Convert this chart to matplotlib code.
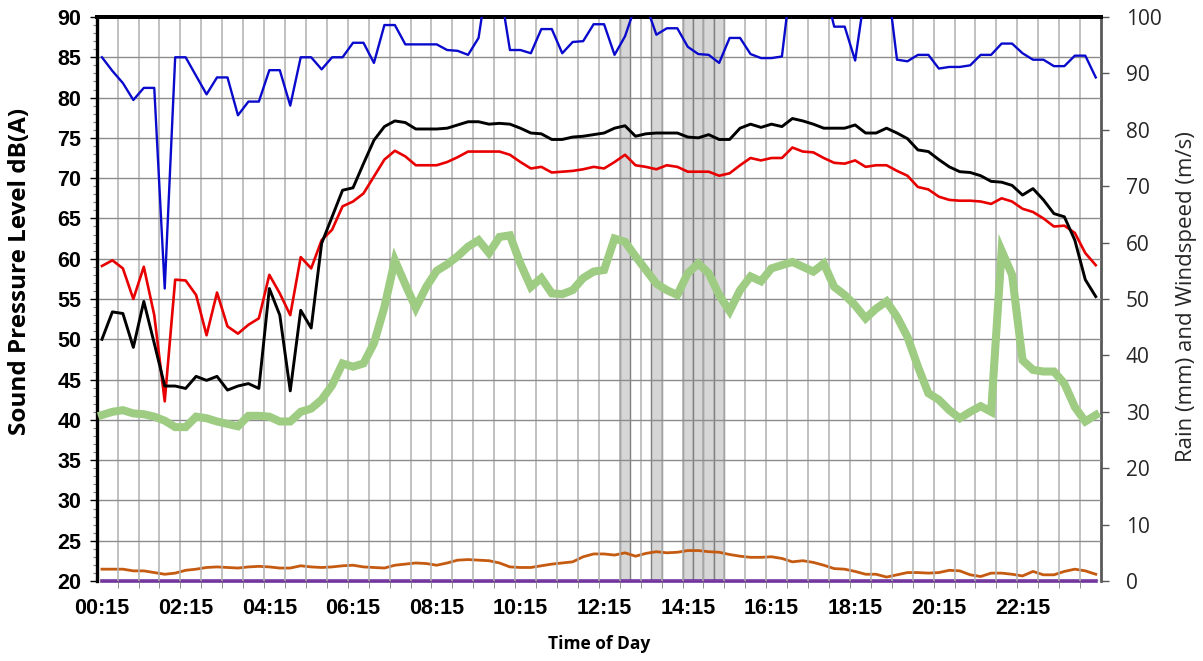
import matplotlib
matplotlib.use("Agg")
import matplotlib.pyplot as plt
import numpy as np

# 15-minute intervals, 00:15 -> 24:00
tick_labels = ["00:15", "02:15", "04:15", "06:15", "08:15", "10:15",
               "12:15", "14:15", "16:15", "18:15", "20:15", "22:15"]

# sound levels, dB(A) (left axis)
lmax = [85.0, 83.3, 81.8, 79.7, 81.2, 81.2, 56.3, 85.0, 85.0, 82.7, 80.4, 82.5,
        82.5, 77.8, 79.5, 79.5, 83.4, 83.4, 79.0, 85.0, 85.0, 83.5, 85.0, 85.0,
        86.8, 86.8, 84.3, 89.0, 89.0, 86.6, 86.6, 86.6, 86.6, 85.9, 85.8, 85.3,
        87.4, 96.0, 94.0, 85.9, 85.9, 85.5, 88.5, 88.5, 85.5, 86.9, 87.0, 89.1,
        89.1, 85.3, 87.6, 91.4, 91.5, 87.8, 88.6, 88.6, 86.3, 85.4, 85.3, 84.3,
        87.4, 87.4, 85.4, 84.9, 84.9, 85.1, 96.0, 97.0, 96.0, 94.0, 88.8, 88.8,
        84.6, 93.5, 95.0, 95.3, 84.7, 84.5, 85.3, 85.3, 83.6, 83.8, 83.8, 84.0,
        85.3, 85.3, 86.7, 86.7, 85.5, 84.7, 84.7, 83.9, 83.9, 85.2, 85.2, 82.5]

l10 = [50.0, 53.4, 53.2, 49.0, 54.7, 49.5, 44.2, 44.2, 43.9, 45.4, 44.9, 45.4,
       43.7, 44.2, 44.5, 43.9, 56.3, 53.0, 43.6, 53.6, 51.4, 61.9, 65.2, 68.5,
       68.8, 71.8, 74.7, 76.4, 77.1, 76.9, 76.1, 76.1, 76.1, 76.2, 76.6, 77.0,
       77.0, 76.7, 76.8, 76.7, 76.2, 75.6, 75.5, 74.8, 74.8, 75.1, 75.2, 75.4,
       75.6, 76.2, 76.5, 75.2, 75.5, 75.6, 75.6, 75.6, 75.1, 75.0, 75.4, 74.8,
       74.8, 76.2, 76.7, 76.3, 76.7, 76.4, 77.4, 77.1, 76.7, 76.2, 76.2, 76.2,
       76.6, 75.6, 75.6, 76.2, 75.6, 74.9, 73.5, 73.3, 72.3, 71.4, 70.8, 70.7,
       70.3, 69.6, 69.5, 69.1, 67.9, 68.7, 67.3, 65.6, 65.2, 62.3, 57.4, 55.3]

leq = [59.1, 59.8, 58.8, 55.0, 59.0, 53.0, 42.3, 57.4, 57.3, 55.5, 50.5, 55.8,
       51.6, 50.7, 51.8, 52.6, 58.0, 55.7, 53.0, 60.2, 58.8, 62.3, 63.6, 66.5,
       67.1, 68.1, 70.2, 72.3, 73.4, 72.7, 71.6, 71.6, 71.6, 72.0, 72.6, 73.3,
       73.3, 73.3, 73.3, 72.9, 72.0, 71.2, 71.4, 70.7, 70.8, 70.9, 71.1, 71.4,
       71.2, 72.0, 72.9, 71.6, 71.4, 71.1, 71.6, 71.4, 70.8, 70.8, 70.8, 70.3,
       70.6, 71.6, 72.5, 72.2, 72.5, 72.5, 73.8, 73.3, 73.2, 72.5, 71.9, 71.8,
       72.2, 71.4, 71.6, 71.6, 70.9, 70.3, 68.9, 68.6, 67.7, 67.3, 67.2, 67.2,
       67.1, 66.8, 67.5, 67.1, 66.2, 65.8, 65.0, 64.0, 64.1, 63.2, 60.7, 59.2]

l90 = [40.6, 41.0, 41.2, 40.8, 40.7, 40.4, 39.9, 39.1, 39.1, 40.4, 40.2, 39.8,
       39.5, 39.2, 40.5, 40.5, 40.4, 39.8, 39.8, 41.0, 41.4, 42.5, 44.3, 47.0,
       46.6, 47.0, 49.5, 54.0, 59.8, 56.8, 53.9, 56.5, 58.5, 59.3, 60.3, 61.5,
       62.3, 60.7, 62.7, 62.9, 59.4, 56.5, 57.6, 55.7, 55.6, 56.1, 57.6, 58.4,
       58.6, 62.5, 62.1, 60.3, 58.6, 56.9, 56.1, 55.5, 58.2, 59.4, 58.2, 55.5,
       53.5, 56.1, 57.8, 57.2, 58.8, 59.2, 59.6, 59.0, 58.4, 59.4, 56.5, 55.5,
       54.2, 52.6, 53.8, 54.7, 52.8, 50.3, 46.6, 43.3, 42.5, 41.2, 40.2, 41.0,
       41.7, 41.0, 61.0, 58.0, 47.4, 46.2, 46.0, 46.0, 44.5, 41.6, 39.8, 40.6]

# weather (right axis)
windspeed = [2.1, 2.1, 2.1, 1.8, 1.8, 1.5, 1.2, 1.4, 1.9, 2.1, 2.4, 2.5,
             2.4, 2.3, 2.5, 2.6, 2.5, 2.3, 2.3, 2.7, 2.5, 2.4, 2.5, 2.7,
             2.8, 2.5, 2.4, 2.3, 2.8, 3.0, 3.2, 3.1, 2.8, 3.2, 3.7, 3.8,
             3.7, 3.6, 3.2, 2.5, 2.4, 2.4, 2.7, 3.0, 3.2, 3.4, 4.3, 4.8,
             4.8, 4.6, 5.0, 4.4, 4.9, 5.2, 5.0, 5.1, 5.4, 5.4, 5.2, 5.1,
             4.7, 4.4, 4.2, 4.2, 4.3, 4.0, 3.4, 3.6, 3.3, 2.8, 2.2, 2.1,
             1.7, 1.2, 1.2, 0.7, 1.1, 1.5, 1.5, 1.4, 1.5, 1.9, 1.8, 1.1,
             0.8, 1.4, 1.4, 1.2, 0.9, 1.7, 1.1, 1.1, 1.7, 2.1, 1.8, 1.2]
rain = [0.0] * 96

# excluded intervals (shaded columns)
flag_idx = [50, 53, 56, 57, 58, 59]
flag_val = [100, 100, 100, 100, 100, 100]

x = np.arange(len(leq))

fig, ax1 = plt.subplots(figsize=(12.03, 6.61), dpi=100)
fig.subplots_adjust(left=0.0804, right=0.9152, top=0.9743, bottom=0.121)
ax2 = ax1.twinx()

# right axis goes behind so the noise lines sit over the shaded columns
ax2.set_zorder(ax1.get_zorder() - 1)
ax1.patch.set_visible(False)

ax2.bar(flag_idx, flag_val, width=1.0, color="#D6D6D6", edgecolor="#7F7F7F",
        linewidth=1.0, zorder=2)
ax2.plot(x, windspeed, color="#C55A11", lw=2.0, zorder=3)
ax2.plot(x, rain, color="#7030A0", lw=2.6, zorder=4, clip_on=False)

ax1.plot(x, l90, color="#9DCC82", lw=5.8, solid_joinstyle="miter", zorder=3)
ax1.plot(x, leq, color="#E80000", lw=1.9, zorder=4)
ax1.plot(x, l10, color="black", lw=2.1, zorder=5)
ax1.plot(x, lmax, color="#0A0ACD", lw=1.7, zorder=6)

ax1.set_xlim(-0.5, 95.5)
ax1.set_ylim(20, 90)
ax2.set_ylim(0, 100)

# x axis: labels on category centres, grid on every 2nd boundary
ax1.set_xticks(np.arange(0, 96, 8))
ax1.set_xticklabels(tick_labels, fontfamily="Liberation Sans",
                    fontweight="bold", fontsize=15.5)
ax1.set_xticks(np.arange(1.5, 95, 2), minor=True)
ax1.tick_params(axis="x", which="major", length=0, pad=12)
ax1.tick_params(axis="x", which="minor", length=5, direction="out",
                color="#7F7F7F")
ax1.grid(which="minor", axis="x", color="#B0B0B0", lw=1.1)

ax1.set_yticks(np.arange(20, 91, 5))
ax1.set_yticks(np.arange(20, 91, 1), minor=True)
ax1.tick_params(axis="y", which="major", length=5, width=1, pad=6,
                labelsize=15.5)
ax1.tick_params(axis="y", which="minor", length=3, width=0.8, color="#7F7F7F")
for t in ax1.get_yticklabels():
    t.set_fontfamily("Liberation Sans")
    t.set_fontweight("bold")
ax1.grid(which="major", axis="y", color="#8C8C8C", lw=1.0)

ax2.set_yticks(np.arange(0, 101, 10))
ax2.tick_params(axis="y", length=6, width=1, pad=12, labelsize=15,
                color="#595959")
for t in ax2.get_yticklabels():
    t.set_fontfamily("Open Sans")
    t.set_color("#262626")

for a in (ax1, ax2):
    a.spines["bottom"].set_visible(False)
ax1.spines["top"].set_linewidth(2.8)
ax1.spines["left"].set_linewidth(2.4)
ax2.spines["top"].set_linewidth(2.8)
ax2.spines["right"].set_linewidth(2.0)
ax2.spines["right"].set_color("#595959")
ax2.spines["left"].set_visible(False)
ax1.spines["right"].set_visible(False)

ax1.set_ylabel("Sound Pressure Level dB(A)", fontfamily="Open Sans",
               fontweight="bold", fontsize=17.5)
ax1.yaxis.set_label_coords(-0.064, 0.548)
ax2.set_ylabel("Rain (mm) and Windspeed (m/s)", fontfamily="Open Sans",
               fontsize=16, color="#262626")
ax2.yaxis.set_label_coords(1.075, 0.505)
ax1.set_xlabel("Time of Day", fontfamily="Open Sans", fontweight="bold",
               fontsize=12.5)
ax1.xaxis.set_label_coords(0.5, -0.095)

fig.savefig("out.png", dpi=100)
